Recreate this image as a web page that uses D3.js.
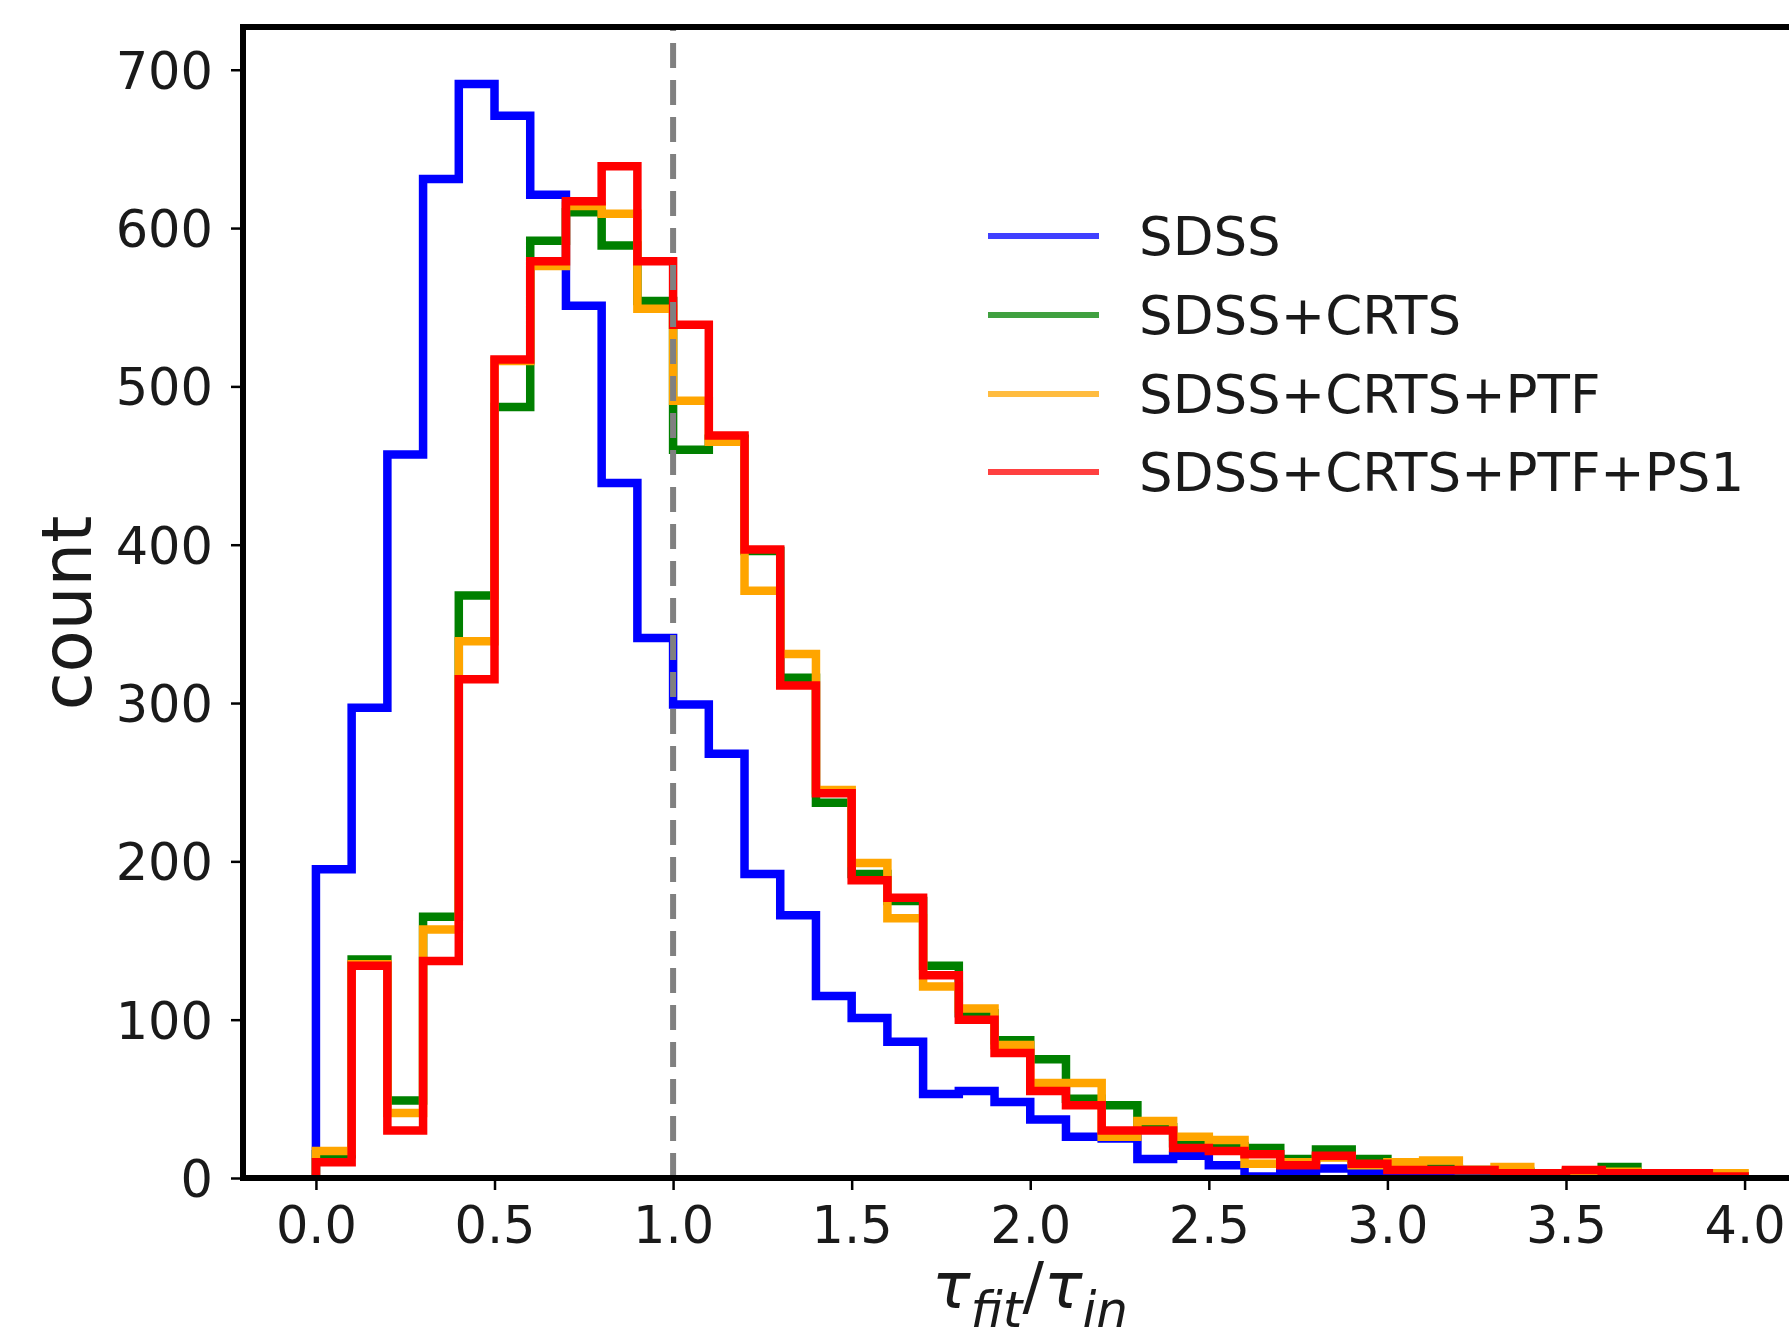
<!DOCTYPE html>
<html>
<head>
<meta charset="utf-8">
<script src="https://cdn.jsdelivr.net/npm/d3@7"></script>
<style>
  body { margin: 0; background: #fff; }
  svg { display: block; font-family: "DejaVu Sans", sans-serif; }
</style>
</head>
<body>
<div class="chart"></div>
<script>
// histogram bin edges (tau_fit / tau_in)
const binEdges = [0.0, 0.1, 0.2, 0.3, 0.4, 0.5, 0.6, 0.7, 0.8, 0.9,
                  1.0, 1.1, 1.2, 1.3, 1.4, 1.5, 1.6, 1.7, 1.8, 1.9,
                  2.0, 2.1, 2.2, 2.3, 2.4, 2.5, 2.6, 2.7, 2.8, 2.9,
                  3.0, 3.1, 3.2, 3.3, 3.4, 3.5, 3.6, 3.7, 3.8, 3.9, 4.0];

// counts per bin
const sdss = [195, 297, 457, 631, 691, 671, 621, 551, 439, 341,
              299, 268, 192, 166, 115, 101, 86, 53, 55, 48,
              37, 26, 25, 12, 14, 8, 1, 3, 6, 3,
              1, 0, 0, 1, 0, 0, 0, 0, 0, 0];
const sdssCrts = [15, 138, 49, 165, 368, 487, 592, 610, 589, 554,
                  460, 467, 396, 316, 237, 192, 175, 134, 104, 87,
                  75, 50, 46, 32, 22, 20, 19, 12, 18, 12,
                  8, 6, 5, 4, 3, 4, 7, 3, 3, 1];
const sdssCrtsPtf = [17, 135, 41, 157, 339, 516, 576, 614, 609, 549,
                     491, 465, 371, 331, 245, 199, 164, 121, 107, 84,
                     60, 60, 26, 36, 26, 24, 9, 10, 13, 8,
                     10, 11, 5, 7, 3, 4, 4, 3, 3, 3];
const sdssCrtsPtfPs1 = [10, 134, 30, 137, 315, 517, 579, 617, 639, 579,
                        539, 469, 397, 311, 243, 188, 177, 128, 100, 79,
                        55, 46, 30, 30, 19, 17, 15, 8, 14, 9,
                        5, 5, 5, 3, 3, 5, 3, 3, 3, 1];

const seriesNames = ["SDSS", "SDSS+CRTS", "SDSS+CRTS+PTF", "SDSS+CRTS+PTF+PS1"];
const seriesColors = ["#0000ff", "#008000", "#ffa500", "#ff0000"];
const seriesCounts = [sdss, sdssCrts, sdssCrtsPtf, sdssCrtsPtfPs1];

const xTicks = [0.0, 0.5, 1.0, 1.5, 2.0, 2.5, 3.0, 3.5, 4.0];
const yTicks = [0, 100, 200, 300, 400, 500, 600, 700];
const refLine = 1.0;

const W = 1789, H = 1336;
const plot = {left: 243, top: 27, right: 1846, bottom: 1178};

const svg = d3.select(".chart")
    .append("svg")
    .attr("width", W)
    .attr("height", H);

const x = d3.scaleLinear()
    .domain([-0.2042, 4.284])
    .range([plot.left, plot.right]);

const y = d3.scaleLinear()
    .domain([0, 727])
    .range([plot.bottom, plot.top]);

svg.append("clipPath")
    .attr("id", "plotclip")
    .append("rect")
    .attr("x", plot.left)
    .attr("y", plot.top)
    .attr("width", plot.right - plot.left)
    .attr("height", plot.bottom - plot.top);

// step outline like matplotlib histtype='step'
function stepPoints(counts){
    const pts = [[binEdges[0], 0]];
    counts.forEach((c, i) => {
        pts.push([binEdges[i], c]);
        pts.push([binEdges[i + 1], c]);
    });
    pts.push([binEdges[binEdges.length - 1], 0]);
    return pts;
}

const line = d3.line()
    .x(d => x(d[0]))
    .y(d => y(d[1]));

const g = svg.append("g").attr("clip-path", "url(#plotclip)");

g.selectAll(".hist")
    .data(seriesCounts)
    .enter()
    .append("path")
    .attr("class", "hist")
    .attr("d", d => line(stepPoints(d)))
    .attr("fill", "none")
    .attr("stroke", (d, i) => seriesColors[i])
    .attr("stroke-width", 8.5)
    .attr("stroke-linejoin", "miter")
    .attr("stroke-linecap", "butt");

// dashed reference line
g.append("line")
    .attr("x1", x(refLine))
    .attr("x2", x(refLine))
    .attr("y1", plot.bottom)
    .attr("y2", plot.top)
    .attr("stroke", "#808080")
    .attr("stroke-width", 6)
    .attr("stroke-dasharray", "25,12");

// axes
const xAxis = d3.axisBottom(x)
    .tickValues(xTicks)
    .tickFormat(d3.format(".1f"))
    .tickSize(12)
    .tickPadding(17);

const yAxis = d3.axisLeft(y)
    .tickValues(yTicks)
    .tickFormat(d3.format("d"))
    .tickSize(12)
    .tickPadding(18);

const gx = svg.append("g")
    .attr("transform", `translate(0, ${plot.bottom})`)
    .call(xAxis);

const gy = svg.append("g")
    .attr("transform", `translate(${plot.left}, 0)`)
    .call(yAxis);

[gx, gy].forEach(a => {
    a.select(".domain").remove();
    a.selectAll(".tick line").attr("stroke", "#000").attr("stroke-width", 2.5);
    a.selectAll(".tick text")
        .attr("fill", "#1a1a1a")
        .style("font-size", "51px")
        .style("font-family", "DejaVu Sans");
});
gy.selectAll(".tick text").attr("dy", "0.36em");

// spines
const spines = svg.append("g")
    .attr("stroke", "#000")
    .attr("stroke-width", 6)
    .attr("stroke-linecap", "square");
spines.append("line").attr("x1", plot.left).attr("x2", plot.left).attr("y1", plot.top).attr("y2", plot.bottom);
spines.append("line").attr("x1", plot.left).attr("x2", plot.right).attr("y1", plot.top).attr("y2", plot.top);
spines.append("line").attr("x1", plot.left).attr("x2", plot.right).attr("y1", plot.bottom).attr("y2", plot.bottom);

// axis labels
svg.append("text")
    .attr("transform", "translate(91, 613) rotate(-90)")
    .attr("text-anchor", "middle")
    .style("font-size", "69px")
    .attr("fill", "#1a1a1a")
    .text("count");

const xl = svg.append("text")
    .attr("x", 1030)
    .attr("y", 1308)
    .attr("text-anchor", "middle")
    .attr("fill", "#1a1a1a")
    .style("font-size", "64px");
xl.append("tspan").style("font-style", "italic").text("τ");
xl.append("tspan").style("font-style", "italic").style("font-size", "50px").attr("dy", 19).text("fit");
xl.append("tspan").attr("dy", -19).text("/");
xl.append("tspan").style("font-style", "italic").text("τ");
xl.append("tspan").style("font-style", "italic").style("font-size", "50px").attr("dy", 19).text("in");

// legend
const legendRows = [236, 315, 394, 472];
const legend = svg.selectAll(".legend")
    .data(seriesNames)
    .enter()
    .append("g")
    .attr("class", "legend")
    .attr("transform", (d, i) => `translate(0, ${legendRows[i]})`);

legend.append("line")
    .attr("x1", 988)
    .attr("x2", 1099)
    .attr("stroke", (d, i) => seriesColors[i])
    .attr("stroke-opacity", 0.75)
    .attr("stroke-width", 6);

legend.append("text")
    .attr("x", 1139)
    .attr("y", 19)
    .attr("fill", "#1a1a1a")
    .style("font-size", "53px")
    .text(d => d);
</script>
</body>
</html>
